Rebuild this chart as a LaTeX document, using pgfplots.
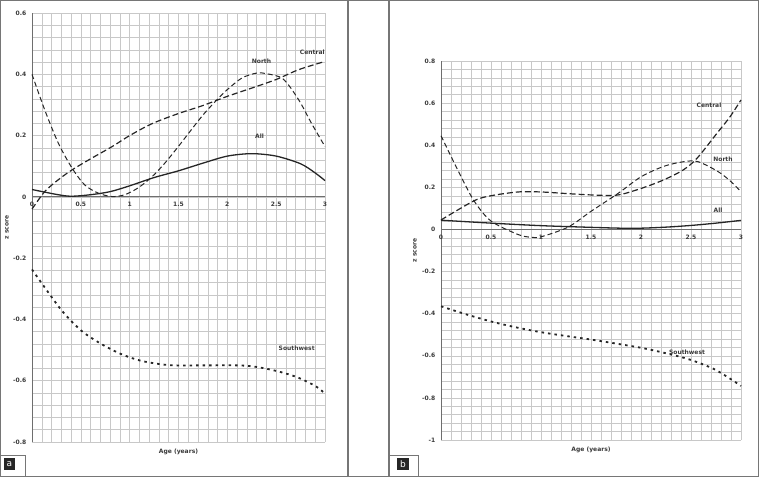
\documentclass[border=0pt]{standalone}
\usepackage{fontspec}
\setmainfont{DejaVu Sans}
\usepackage{pgfplots}
\pgfplotsset{compat=1.18}
\definecolor{gridc}{HTML}{C8C8C8}
\definecolor{axc}{HTML}{6E6E6E}
\definecolor{framec}{HTML}{767676}
\definecolor{linec}{HTML}{262626}
\definecolor{txt}{HTML}{3A3A3A}
\tikzset{
  lab/.style={font=\fontsize{6}{7}\selectfont\bfseries, text=txt},
  allline/.style={linec, line width=1.3pt, smooth},
  centline/.style={linec, line width=1.2pt, smooth, dash pattern=on 6pt off 3pt},
  northline/.style={linec, line width=1.0pt, smooth, dash pattern=on 5pt off 3pt},
  swline/.style={linec, line width=1.8pt, smooth, dash pattern=on 2.5pt off 4pt},
}
\pgfplotsset{
  zpanel/.style={
    scale only axis,
    xmin=0, xmax=3,
    axis x line=middle, axis y line=left,
    axis line style={-, draw=axc, line width=0.8pt},
    xtick={0,0.5,1,1.5,2,2.5,3}, minor x tick num=4,
    minor y tick num=4,
    grid=both,
    major grid style={draw=gridc, line width=0.5pt},
    minor grid style={draw=gridc, line width=0.5pt},
    tick style={draw=none},
    ticklabel style={font=\fontsize{6}{7}\selectfont\bfseries, text=txt},
    /pgf/number format/fixed,
    /pgf/number format/precision=1,
    /pgf/number format/assume math mode=true,
    hide obscured x ticks=false, hide obscured y ticks=false,
    clip=false,
  },
}
\begin{document}
\begin{tikzpicture}
\useasboundingbox (0,0) rectangle (759pt,477pt);
% ---------- panel a ----------
\begin{axis}[zpanel, at={(32pt,35pt)}, anchor=south west,
  width=293pt, height=429pt, ymin=-0.8, ymax=0.6,
  ytick={-0.8,-0.6,-0.4,-0.2,0,0.2,0.4,0.6}]
\addplot[allline] coordinates {(0,0.024) (0.25,0.008) (0.4,0.002) (0.6,0.007) (0.8,0.017) (1,0.036) (1.25,0.063) (1.5,0.085) (1.75,0.110) (2,0.133) (2.25,0.141) (2.5,0.133) (2.75,0.108) (2.9,0.078) (3,0.053)};
\addplot[centline] coordinates {(0,-0.04) (0.13,0.017) (0.27,0.056) (0.41,0.088) (0.61,0.126) (0.82,0.164) (1,0.2) (1.23,0.239) (1.5,0.272) (1.74,0.297) (2,0.328) (2.25,0.355) (2.5,0.383) (2.73,0.415) (3,0.442)};
\addplot[northline] coordinates {(0,0.4) (0.13,0.284) (0.27,0.175) (0.41,0.094) (0.54,0.039) (0.68,0.012) (0.82,0.001) (0.95,0.007) (1.09,0.03) (1.23,0.066) (1.36,0.11) (1.5,0.165) (1.74,0.263) (1.9,0.319) (2,0.35) (2.15,0.388) (2.3,0.404) (2.4,0.402) (2.57,0.385) (2.73,0.317) (2.86,0.241) (3,0.164)};
\addplot[swline] coordinates {(0,-0.237) (0.12,-0.291) (0.31,-0.373) (0.51,-0.438) (0.72,-0.482) (0.92,-0.514) (1.13,-0.536) (1.4,-0.549) (1.72,-0.55) (2.11,-0.55) (2.3,-0.555) (2.5,-0.568) (2.71,-0.588) (2.9,-0.617) (3,-0.642)};
\node[lab] at (axis cs:2.35,0.441) {North};
\node[lab] at (axis cs:2.87,0.471) {Central};
\node[lab] at (axis cs:2.33,0.199) {All};
\node[lab] at (axis cs:2.71,-0.494) {Southwest};
\node[lab, rotate=90] at (axis description cs:-0.085,0.5) {z score};
\node[lab] at (axis description cs:0.5,-0.0233) {Age (years)};
\end{axis}
% ---------- panel b ----------
\begin{axis}[zpanel, at={(441pt,37pt)}, anchor=south west,
  width=300pt, height=379pt, ymin=-1, ymax=0.8,
  ytick={-1,-0.8,-0.6,-0.4,-0.2,0,0.2,0.4,0.6,0.8}]
\addplot[allline] coordinates {(0,0.044) (0.5,0.03) (1,0.018) (1.5,0.01) (1.8,0.006) (2,0.006) (2.25,0.011) (2.5,0.019) (2.75,0.03) (3,0.043)};
\addplot[centline] coordinates {(0,0.045) (0.33,0.136) (0.5,0.16) (0.77,0.178) (1,0.178) (1.27,0.17) (1.5,0.164) (1.76,0.163) (1.99,0.193) (2.22,0.234) (2.42,0.282) (2.56,0.338) (2.76,0.457) (2.89,0.535) (3,0.615)};
\addplot[northline] coordinates {(0,0.445) (0.17,0.28) (0.33,0.136) (0.5,0.04) (0.77,-0.024) (0.9,-0.037) (1,-0.035) (1.27,0.011) (1.5,0.086) (1.77,0.171) (2,0.25) (2.23,0.3) (2.43,0.322) (2.57,0.322) (2.77,0.275) (2.9,0.227) (3,0.179)};
\addplot[swline] coordinates {(0,-0.365) (0.25,-0.403) (0.5,-0.437) (0.75,-0.465) (1,-0.488) (1.25,-0.506) (1.5,-0.523) (1.75,-0.542) (2,-0.562) (2.25,-0.588) (2.5,-0.62) (2.75,-0.668) (3,-0.743)};
\node[lab] at (axis cs:2.68,0.591) {Central};
\node[lab] at (axis cs:2.82,0.331) {North};
\node[lab] at (axis cs:2.77,0.09) {All};
\node[lab] at (axis cs:2.46,-0.582) {Southwest};
\node[lab, rotate=90] at (axis description cs:-0.087,0.5) {z score};
\node[lab] at (axis description cs:0.5,-0.0264) {Age (years)};
\end{axis}
% ---------- frames ----------
\draw[framec, line width=1.2pt] (0.6pt,0.6pt) rectangle (758.4pt,476.4pt);
\draw[framec, line width=1.2pt] (348pt,0pt) -- (348pt,477pt);
\draw[framec, line width=1.2pt] (389pt,0pt) -- (389pt,477pt);
\draw[framec, line width=0.8pt] (0pt,22pt) -- (25pt,22pt) -- (25pt,0pt);
\fill[black!85] (4pt,7pt) rectangle (15pt,19pt);
\node[white, font=\fontsize{9}{9}\selectfont] at (9.5pt,13pt) {a};
\draw[framec, line width=0.8pt] (389pt,22pt) -- (418pt,22pt) -- (418pt,0pt);
\fill[black!85] (397pt,7pt) rectangle (409pt,19pt);
\node[white, font=\fontsize{9}{9}\selectfont] at (403pt,13pt) {b};
\end{tikzpicture}
\end{document}
